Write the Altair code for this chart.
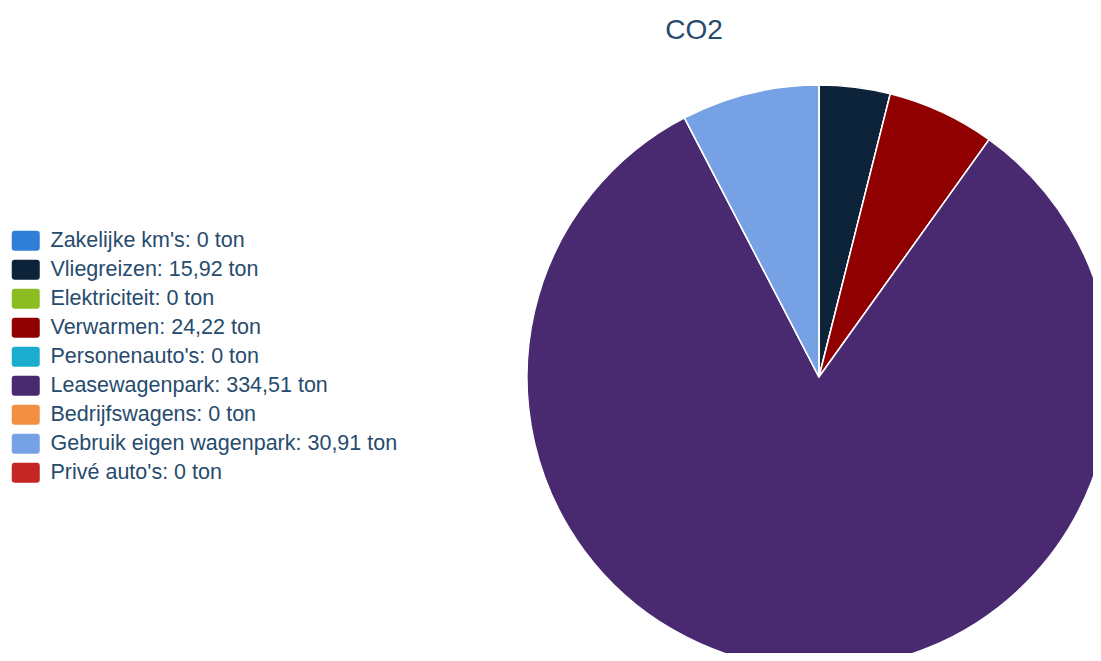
import altair as alt
import pandas as pd

categories = ["Zakelijke km's", "Vliegreizen", "Elektriciteit", "Verwarmen",
              "Personenauto's", "Leasewagenpark", "Bedrijfswagens",
              "Gebruik eigen wagenpark", "Privé auto's"]
values = [0, 15.92, 0, 24.22, 0, 334.51, 0, 30.91, 0]
value_labels = ["0", "15,92", "0", "24,22", "0", "334,51", "0", "30,91", "0"]
colors = ["#2f7ed8", "#0d233a", "#8bbc21", "#910000", "#1aadce",
          "#492970", "#f28f43", "#77a1e5", "#c42525"]

labels = [f"{c}: {v} ton" for c, v in zip(categories, value_labels)]
df = pd.DataFrame({"label": labels, "value": values, "idx": list(range(len(values)))})

rect_path = ("M-1.1,-1H1.1Q1.4,-1 1.4,-0.7V0.7Q1.4,1 1.1,1H-1.1"
             "Q-1.4,1 -1.4,0.7V-0.7Q-1.4,-1 -1.1,-1Z")

pie = alt.Chart(df).mark_arc(radius=292, stroke="white", strokeWidth=1.5).encode(
    theta=alt.Theta("value:Q", stack=True),
    order=alt.Order("idx:Q"),
    color=alt.Color(
        "label:N",
        scale=alt.Scale(domain=labels, range=colors),
        sort=labels,
        legend=alt.Legend(
            title=None,
            orient="none",
            legendX=7,
            legendY=222,
            symbolType=rect_path,
            symbolSize=400,
            symbolStrokeWidth=0,
            symbolOpacity=1,
            labelFont="Liberation Sans",
            labelFontSize=21.5,
            labelColor="#274b6d",
            labelOffset=14,
            rowPadding=6,
            labelLimit=600,
        ),
    ),
    x=alt.value(811),
    y=alt.value(369),
)

title_df = pd.DataFrame({"t": ["CO2"]})
title = alt.Chart(title_df).mark_text(
    font="Liberation Sans", fontSize=28, color="#274b6d", align="center", baseline="alphabetic"
).encode(text="t:N", x=alt.value(686), y=alt.value(31))

chart = alt.layer(pie, title).properties(
    width=1085, height=645, autosize=alt.AutoSizeParams(type="none"), padding=0
).configure_view(stroke=None)

chart.save("out.html", embed_options={"renderer": "svg", "actions": False})
